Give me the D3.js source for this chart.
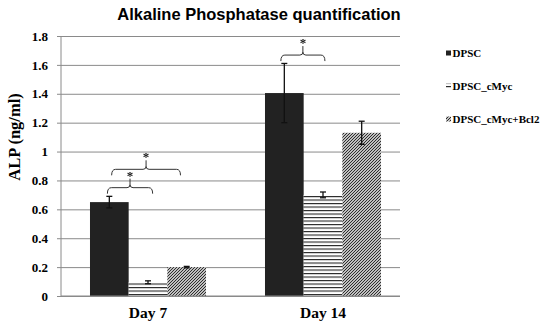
<!DOCTYPE html>
<html>
<head>
<meta charset="utf-8">
<script src="https://cdn.jsdelivr.net/npm/d3@7/dist/d3.min.js"></script>
<style>
  html, body { margin: 0; padding: 0; background: #fff; }
  svg { display: block; }
  .star { opacity: 0.99; will-change: transform; }
</style>
</head>
<body>
<svg id="chart" width="550" height="323"></svg>
<script>
// ALP quantification data (ng/ml), mean and error per day
const days = ["Day 7", "Day 14"];
const seriesNames = ["DPSC", "DPSC_cMyc", "DPSC_cMyc+Bcl2"];
const dpscValues = [0.65, 1.405];
const dpscErrors = [0.04, 0.205];
const cmycValues = [0.095, 0.70];
const cmycErrors = [0.01, 0.02];
const bcl2Values = [0.2, 1.13];
const bcl2Errors = [0.005, 0.08];
const yTicks = [0, 0.2, 0.4, 0.6, 0.8, 1, 1.2, 1.4, 1.6, 1.8];

// significance brackets: day, start/end in bar units within the group, level (ng/ml)
const brackets = [
  { day: "Day 7", from: 0.45, to: 1.62, level: 0.75 },
  { day: "Day 7", from: 0.56, to: 2.34, level: 0.877 },
  { day: "Day 14", from: 0.41, to: 1.55, level: 1.668 }
];

const values = [dpscValues, cmycValues, bcl2Values];
const errors = [dpscErrors, cmycErrors, bcl2Errors];
const rows = [];
days.forEach((d, di) => {
  seriesNames.forEach((s, si) => {
    rows.push({ day: d, series: s, value: values[si][di], err: errors[si][di] });
  });
});

const svg = d3.select("#chart");
const plotLeft = 61, plotRight = 400, plotTop = 36, plotBottom = 296;

const y = d3.scaleLinear().domain([0, 1.8]).range([plotBottom, plotTop]);
const x0 = d3.scaleBand().domain(days).range([60.5, 410.5])
  .paddingInner(0.337).paddingOuter(0.1685);
const x1 = d3.scaleBand().domain(seriesNames).range([0, x0.bandwidth()]);
const unit = x1.bandwidth();

// fill patterns
const defs = svg.append("defs");
const ph = defs.append("pattern").attr("id", "hlines")
  .attr("patternUnits", "userSpaceOnUse").attr("width", 8).attr("height", 3.5);
ph.append("rect").attr("width", 8).attr("height", 3.5).attr("fill", "#fff");
ph.append("rect").attr("y", 0).attr("width", 8).attr("height", 1.1).attr("fill", "#222");

const pd = defs.append("pattern").attr("id", "diag")
  .attr("patternUnits", "userSpaceOnUse").attr("width", 3).attr("height", 3);
pd.append("rect").attr("width", 3).attr("height", 3).attr("fill", "#fff");
pd.append("path").attr("d", "M-1,1 L1,-1 M0,3 L3,0 M2,4 L4,2")
  .attr("stroke", "#222").attr("stroke-width", 1.1);

const fills = { "DPSC": "#222222", "DPSC_cMyc": "url(#hlines)", "DPSC_cMyc+Bcl2": "url(#diag)" };

// gridlines with outward ticks
const yAxis = d3.axisLeft(y).tickValues(yTicks)
  .tickSize(-(plotRight - plotLeft)).tickSizeOuter(0).tickPadding(12)
  .tickFormat(d => d3.format("")(d));
const gy = svg.append("g").attr("transform", `translate(${plotLeft},0)`).call(yAxis);
gy.select(".domain").remove();
gy.selectAll(".tick line").attr("stroke", "#8a8a8a").attr("stroke-width", 1)
  .attr("x1", -4);
gy.selectAll(".tick text")
  .attr("font-family", "'Liberation Serif', 'Times New Roman', serif")
  .attr("font-weight", "bold").attr("font-size", 13).attr("fill", "#000")
  .attr("x", -13);

// y axis line
svg.append("line").attr("x1", plotLeft).attr("x2", plotLeft).attr("y1", plotTop).attr("y2", plotBottom)
  .attr("stroke", "#8a8a8a").attr("stroke-width", 1);

// bars
svg.append("g").selectAll("rect").data(rows).join("rect")
  .attr("x", d => x0(d.day) + x1(d.series))
  .attr("y", d => y(d.value))
  .attr("width", unit)
  .attr("height", d => y(0) - y(d.value))
  .attr("fill", d => fills[d.series]);

// baseline
svg.append("line").attr("x1", plotLeft).attr("x2", plotRight).attr("y1", plotBottom).attr("y2", plotBottom)
  .attr("stroke", "#8a8a8a").attr("stroke-width", 1.2);

// error bars
const eb = svg.append("g").attr("stroke", "#111").attr("stroke-width", 1.3).attr("fill", "none");
rows.forEach(d => {
  const cx = x0(d.day) + x1(d.series) + unit / 2;
  const yt = y(d.value + d.err), yb = y(d.value - d.err);
  eb.append("line").attr("x1", cx).attr("x2", cx).attr("y1", yt).attr("y2", yb);
  eb.append("line").attr("x1", cx - 3).attr("x2", cx + 3).attr("y1", yt).attr("y2", yt);
  eb.append("line").attr("x1", cx - 3).attr("x2", cx + 3).attr("y1", yb).attr("y2", yb);
});

// significance brackets with asterisks
const bg = svg.append("g");
brackets.forEach(b => {
  const xa = x0(b.day) + b.from * unit;
  const xb = x0(b.day) + b.to * unit;
  const xm = (xa + xb) / 2;
  const yy = y(b.level);
  const p = `M${xa},${yy + 6} Q${xa},${yy} ${xa + 4},${yy} H${xm - 3} Q${xm},${yy} ${xm},${yy - 3} V${yy - 9}` +
            ` M${xm},${yy - 3} Q${xm},${yy} ${xm + 3},${yy} H${xb - 4} Q${xb},${yy} ${xb},${yy + 6}`;
  bg.append("path").attr("d", p).attr("fill", "none").attr("stroke", "#333").attr("stroke-width", 1);
  bg.append("text").attr("class", "star").attr("x", xm).attr("y", yy - 8)
    .attr("text-anchor", "middle")
    .attr("font-family", "'Liberation Serif', 'Times New Roman', serif")
    .attr("font-weight", "bold")
    .attr("font-size", 13).attr("fill", "#111").text("*");
});

// category labels
svg.append("g").selectAll("text").data(days).join("text")
  .attr("x", d => x0(d) + x0.bandwidth() / 2)
  .attr("y", 318)
  .attr("text-anchor", "middle")
  .attr("font-family", "'Liberation Serif', 'Times New Roman', serif")
  .attr("font-weight", "bold").attr("font-size", 15.5).attr("fill", "#000")
  .text(d => d);

// y axis title
svg.append("text")
  .attr("transform", "translate(20,137) rotate(-90)")
  .attr("text-anchor", "middle")
  .attr("font-family", "'Liberation Serif', 'Times New Roman', serif")
  .attr("font-weight", "bold").attr("font-size", 16.5).attr("fill", "#000")
  .text("ALP (ng/ml)");

// chart title
svg.append("text")
  .attr("x", 259).attr("y", 20).attr("text-anchor", "middle")
  .attr("font-family", "'Liberation Sans', Arial, sans-serif")
  .attr("font-weight", "bold").attr("font-size", 16.5).attr("fill", "#000")
  .text("Alkaline Phosphatase quantification");

// legend
const lg = svg.append("g").selectAll("g").data(seriesNames).join("g")
  .attr("transform", (d, i) => `translate(446,${53 + i * 33})`);
lg.append("rect").attr("x", 0).attr("y", -2.5).attr("width", 5).attr("height", 5)
  .attr("fill", d => fills[d]);
lg.append("text").attr("x", 6.5).attr("y", 4)
  .attr("font-family", "'Liberation Serif', 'Times New Roman', serif")
  .attr("font-weight", "bold").attr("font-size", 11).attr("fill", "#000")
  .text(d => d);
</script>
</body>
</html>
